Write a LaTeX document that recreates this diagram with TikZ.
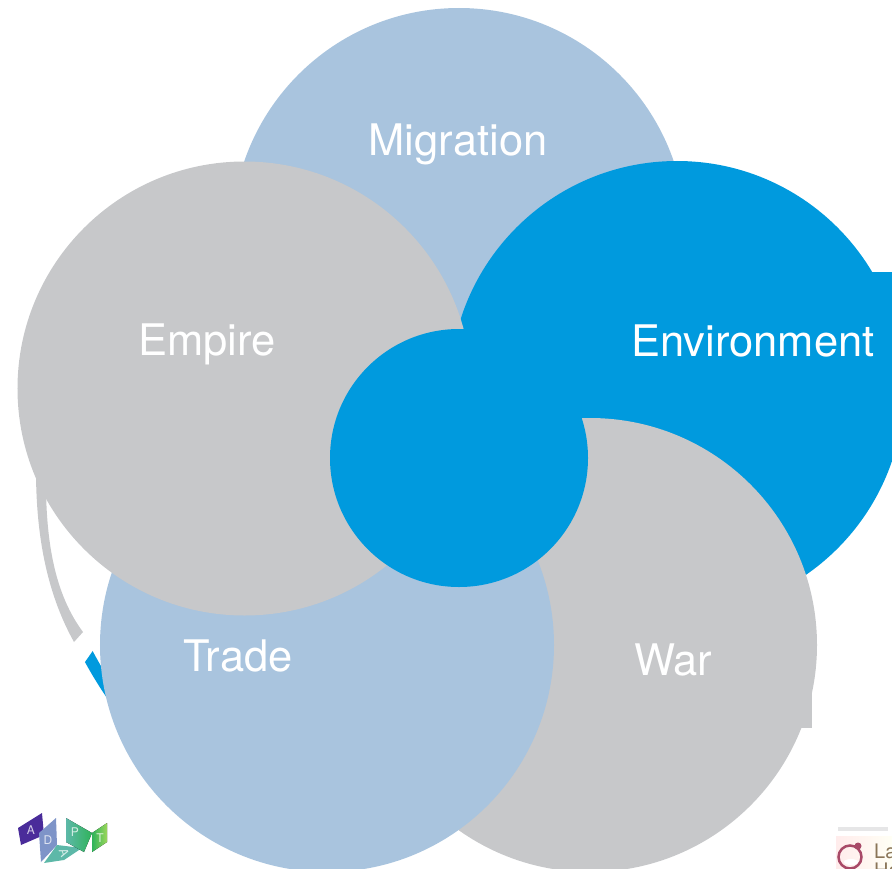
\documentclass[tikz,border=0pt]{standalone}
\usepackage{fontspec}
\setmainfont{TeX Gyre Heros}
\definecolor{envblue}{HTML}{009ADE}
\definecolor{paleblue}{HTML}{A9C4DE}
\definecolor{softgray}{HTML}{C7C8CA}
\definecolor{logoviolet}{HTML}{4A2C9A}
\definecolor{logoblue}{HTML}{7E94C8}
\definecolor{logoteal}{HTML}{5DB8A8}
\definecolor{logogreen}{HTML}{2FB35A}
\definecolor{logolime}{HTML}{9AD65A}
\definecolor{logomaroon}{HTML}{A84A68}
\definecolor{logobrown}{HTML}{8A7558}
\tikzset{
  disc/.style={circle,minimum size=454bp,inner sep=0pt,outer sep=0pt},
  lbl/.style={text=white,font=\fontsize{43.5bp}{48bp}\selectfont,inner sep=0pt,anchor=base},
  tiletext/.style={text=white,font=\fontsize{12bp}{13bp}\selectfont,inner sep=0pt,opacity=.75},
  smalltext/.style={text=logobrown,font=\fontsize{20bp}{20bp}\selectfont,inner sep=0pt,anchor=base west}
}
\begin{document}
\begin{tikzpicture}[x=1bp,y=-1bp]
\useasboundingbox (0,0) rectangle (892,869);
\clip (0,0) rectangle (892,869);
% ring fragments
\fill[softgray] (36,470) .. controls (36,530) and (45,590) .. (74,642) -- (83,632)
  .. controls (57,597) and (47,550) .. (46,490) -- cycle;
\begin{scope}
\clip (78,672) -- (99,642) -- (140,642) -- (140,740) -- (78,740) -- cycle;
\draw[envblue,line width=12bp] (459,458) circle[radius=420];
\end{scope}
% discs
\node[disc,fill=paleblue] (migration) at (459,235) {};
\fill[envblue] (860,272) rectangle (892,461);
\node[disc,fill=envblue] (environment) at (677,388) {};
\fill[softgray] (760,690) rectangle (812,728);
\node[disc,fill=softgray] (war) at (590,645) {};
\node[disc,fill=paleblue] (trade) at (327,645) {};
\node[disc,fill=softgray] (empire) at (244.5,388.5) {};
\node[circle,minimum size=258bp,inner sep=0pt,outer sep=0pt,fill=envblue] (hub) at (459,458) {};
% labels
\node[lbl] (lmig) at (458,155) {Migration};
\node[lbl] (lemp) at (207,355) {Empire};
\node[lbl] (lenv) at (753,356) {Environment};
\node[lbl] (ltrade) at (238,671) {Trade};
\node[lbl] (lwar) at (673,675) {War};
% left logo
\fill[logoviolet] (18,828) -- (42,813) -- (44,835) -- (21,845) -- cycle;
\fill[logoblue] (39,833) -- (56,818) -- (57,845) -- (41,862) -- cycle;
\fill[logoteal] (57,845) -- (82,848) -- (64,860) -- (44,863) -- cycle;
\fill[left color=logoteal,right color=logogreen] (66,818) -- (92,833) -- (84,852) -- (66,842) -- cycle;
\fill[left color=logogreen,right color=logolime] (92,833) -- (107,823) -- (107,842) -- (92,852) -- cycle;
\node[tiletext] (la) at (31,830) {A};
\node[tiletext] (ld) at (48,840) {D};
\node[tiletext,rotate=-70] (lb) at (64,853) {A};
\node[tiletext] (lp) at (75,832) {P};
\node[tiletext] (lt) at (100,838) {T};
% right logo
\fill[softgray!45] (838,827) rectangle (888,831);
\fill[left color=pink!30,right color=yellow!4] (836,836) rectangle (892,869);
\draw[logomaroon,line width=2.5bp] (850,857) circle[radius=11.5];
\fill[logomaroon] (858,846) circle[radius=3.5];
\fill[white] (851,862) ellipse[x radius=7,y radius=3];
\node[smalltext] (lla) at (874,858) {La};
\node[smalltext] (lha) at (874,877) {Ha};
\end{tikzpicture}
\end{document}
